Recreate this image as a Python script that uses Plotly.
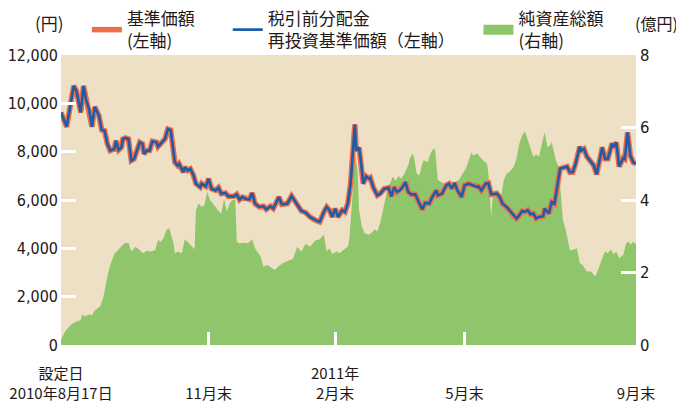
import pandas as pd
import plotly.graph_objects as go

# ---- data ----
START = "2010-08-17"
END = "2011-09-30"

# days since inception (設定日) for NAV readings
nav_days = [0, 4, 6, 9, 11, 14, 16, 18, 20, 22, 24, 27, 29, 31, 33, 35, 38, 39, 41, 43,
            44, 46, 48, 50, 52, 56, 58, 59, 61, 63, 65, 68, 69, 71, 74, 76, 78, 81, 83, 84,
            87, 88, 90, 92, 94, 96, 99, 100, 103, 105, 107, 110, 112, 114, 117, 119, 123, 125, 127, 129,
            132, 134, 136, 138, 141, 144, 146, 149, 151, 155, 157, 159, 161, 164, 166, 169, 171, 174, 177, 181,
            184, 187, 189, 191, 193, 195, 197, 200, 202, 204, 206, 209, 210, 212, 213, 215, 217, 219, 220, 222,
            225, 227, 230, 233, 235, 237, 239, 241, 243, 245, 247, 249, 252, 255, 257, 259, 262, 264, 267, 268,
            271, 274, 276, 278, 280, 282, 285, 287, 290, 293, 296, 297, 299, 302, 304, 306, 310, 312, 314, 317,
            319, 321, 324, 326, 328, 330, 332, 334, 336, 338, 340, 343, 344, 347, 349, 351, 353, 355, 357, 360,
            362, 364, 366, 369, 370, 372, 374, 376, 379, 381, 383, 385, 387, 389, 392, 393, 395, 397, 400, 401,
            403, 405, 407, 409]

# 基準価額 (円)
nav = [9620, 9030, 9690, 10720, 10510, 9620, 10720, 10100, 9760, 9030, 9855, 9485, 8900, 8870, 8320, 8045, 8115, 8456, 8073, 8181,
       8526, 8567, 8526, 7633, 7703, 8386, 8320, 7909, 8045, 8045, 8427, 8386, 8209, 8320, 8526, 8938, 8897, 7563, 7428, 7498,
       7152, 7358, 7222, 7292, 7057, 6675, 6535, 6675, 6563, 6880, 6469, 6399, 6510, 6263, 6288, 6152, 6152, 6234, 6016, 6123,
       6029, 6029, 6288, 5851, 5712, 5740, 5617, 5740, 5646, 6123, 5823, 5823, 5851, 6164, 5987, 5687, 5547, 5481, 5300, 5165,
       5094, 5506, 5712, 5576, 5300, 5646, 5300, 5576, 5506, 5851, 6675, 9130, 8045, 8181, 7769, 6675, 6975, 6880, 6921, 6535,
       6193, 6263, 6469, 6510, 6152, 6535, 6329, 6399, 6535, 6741, 6329, 6234, 6234, 5851, 5605, 5876, 5851, 6123, 6399, 6193,
       6263, 6605, 6675, 6469, 6700, 6399, 6123, 6605, 6675, 6605, 6535, 6563, 6399, 6675, 6700, 6234, 6263, 6123, 5851, 5712,
       5576, 5411, 5234, 5370, 5547, 5506, 5576, 5411, 5440, 5234, 5300, 5329, 5646, 5440, 5917, 5851, 6675, 7292, 7333, 7387,
       7152, 7152, 7498, 8209, 8045, 8115, 7798, 7633, 7428, 7057, 7633, 8181, 7703, 7703, 8345, 8181, 8386, 7387, 7744, 7703,
       8798, 7839, 7563, 7498]

# 税引前分配金再投資基準価額 (円) – no distributions, identical to NAV
reinvest = [9620, 9030, 9690, 10720, 10510, 9620, 10720, 10100, 9760, 9030, 9855, 9485, 8900, 8870, 8320, 8045, 8115, 8456, 8073, 8181,
            8526, 8567, 8526, 7633, 7703, 8386, 8320, 7909, 8045, 8045, 8427, 8386, 8209, 8320, 8526, 8938, 8897, 7563, 7428, 7498,
            7152, 7358, 7222, 7292, 7057, 6675, 6535, 6675, 6563, 6880, 6469, 6399, 6510, 6263, 6288, 6152, 6152, 6234, 6016, 6123,
            6029, 6029, 6288, 5851, 5712, 5740, 5617, 5740, 5646, 6123, 5823, 5823, 5851, 6164, 5987, 5687, 5547, 5481, 5300, 5165,
            5094, 5506, 5712, 5576, 5300, 5646, 5300, 5576, 5506, 5851, 6675, 9130, 8045, 8181, 7769, 6675, 6975, 6880, 6921, 6535,
            6193, 6263, 6469, 6510, 6152, 6535, 6329, 6399, 6535, 6741, 6329, 6234, 6234, 5851, 5605, 5876, 5851, 6123, 6399, 6193,
            6263, 6605, 6675, 6469, 6700, 6399, 6123, 6605, 6675, 6605, 6535, 6563, 6399, 6675, 6700, 6234, 6263, 6123, 5851, 5712,
            5576, 5411, 5234, 5370, 5547, 5506, 5576, 5411, 5440, 5234, 5300, 5329, 5646, 5440, 5917, 5851, 6675, 7292, 7333, 7387,
            7152, 7152, 7498, 8209, 8045, 8115, 7798, 7633, 7428, 7057, 7633, 8181, 7703, 7703, 8345, 8181, 8386, 7387, 7744, 7703,
            8798, 7839, 7563, 7498]

# days since inception for net-asset readings
asset_days = [0, 3, 7, 11, 14, 15, 17, 20, 22, 24, 28, 30, 33, 35, 38, 41, 43, 45, 48, 50,
              53, 56, 58, 61, 64, 67, 69, 71, 73, 75, 77, 80, 81, 83, 86, 88, 90, 93, 95, 96,
              98, 100, 102, 104, 106, 110, 112, 114, 116, 118, 120, 122, 124, 125, 127, 131, 133, 136, 138, 142,
              144, 147, 152, 155, 158, 162, 165, 168, 171, 174, 177, 181, 184, 187, 189, 191, 193, 196, 198, 201,
              204, 205, 207, 209, 211, 212, 214, 216, 219, 221, 223, 225, 227, 229, 232, 234, 236, 238, 240, 242,
              244, 247, 248, 250, 251, 253, 255, 257, 258, 261, 262, 264, 266, 267, 268, 272, 275, 279, 283, 285,
              288, 290, 292, 293, 296, 298, 300, 303, 304, 306, 307, 309, 311, 313, 315, 317, 319, 322, 324, 326,
              328, 330, 332, 334, 336, 338, 340, 341, 343, 344, 346, 348, 349, 351, 352, 354, 355, 357, 359, 362,
              364, 367, 369, 371, 374, 377, 380, 382, 385, 387, 389, 391, 393, 395, 397, 400, 402, 404, 405, 407,
              409]

# 純資産総額 (億円)
assets = [0.15, 0.38, 0.56, 0.65, 0.68, 0.84, 0.79, 0.84, 0.82, 0.95, 1.07, 1.30, 1.89, 2.21, 2.51, 2.64, 2.71, 2.81, 2.82, 2.58,
          2.71, 2.62, 2.53, 2.60, 2.58, 2.62, 2.90, 2.85, 2.95, 3.17, 3.22, 2.81, 2.53, 2.58, 2.53, 2.92, 2.85, 2.71, 2.64, 3.72,
          3.91, 3.81, 3.86, 4.23, 4.00, 3.81, 3.70, 3.63, 4.04, 3.68, 3.91, 4.00, 4.00, 2.85, 2.81, 2.82, 2.81, 2.92, 2.67, 2.44,
          2.16, 2.21, 2.07, 2.18, 2.26, 2.33, 2.37, 2.71, 2.58, 2.79, 2.71, 2.88, 2.92, 3.04, 2.58, 2.67, 2.51, 2.58, 2.53, 2.62,
          2.71, 2.90, 3.91, 5.29, 4.82, 3.72, 3.26, 3.08, 3.04, 3.10, 3.19, 3.13, 3.36, 3.72, 4.27, 4.46, 4.64, 4.53, 4.66, 4.59,
          4.71, 4.96, 5.14, 5.28, 5.19, 4.73, 4.68, 5.01, 5.10, 5.05, 5.19, 5.37, 5.42, 5.01, 4.55, 4.46, 4.50, 4.47, 4.55, 4.68,
          4.87, 5.10, 5.32, 5.23, 5.28, 5.19, 5.10, 5.01, 4.73, 3.54, 4.09, 4.27, 4.27, 4.09, 4.55, 4.73, 4.77, 4.91, 5.14, 5.55,
          5.78, 5.90, 5.66, 5.42, 5.19, 5.26, 5.19, 5.37, 5.74, 5.87, 5.46, 5.51, 5.60, 5.28, 5.10, 4.91, 4.46, 3.45, 3.17, 2.62,
          2.62, 2.67, 2.26, 2.21, 2.03, 2.03, 1.89, 2.07, 2.40, 2.58, 2.53, 2.64, 2.51, 2.58, 2.40, 2.49, 2.81, 2.85, 2.76, 2.85,
          2.78]

# x-axis ticks
tick_dates = ["2010-08-17", "2010-11-30", "2011-02-28", "2011-05-31", "2011-09-30"]
tick_labels = ["設定日<br>2010年8月17日", "\u00a0<br>11月末", "2011年<br>2月末", "\u00a0<br>5月末", "\u00a0<br>9月末"]
mark_dates = ["2010-11-30", "2011-02-28", "2011-05-31"]

left_ticks = [0, 2000, 4000, 6000, 8000, 10000, 12000]
right_ticks = [0, 2, 4, 6, 8]

assert len(nav_days) == len(nav) == len(reinvest)
assert len(asset_days) == len(assets)

start = pd.Timestamp(START)
nav_dates = [start + pd.Timedelta(days=d) for d in nav_days]
asset_dates = [start + pd.Timedelta(days=d) for d in asset_days]

# ---- styles ----
ORANGE = "#EE6E4C"
BLUE = "#1B5DA8"
GREEN = "#8FC66B"
BEIGE = "#EEE0C5"
TXT = "#231815"
NUMFONT = "Liberation Sans Narrow, DejaVu Sans Condensed, Roboto Condensed, Noto Sans CJK JP, sans-serif"
JPFONT = "Liberation Sans Narrow, Noto Sans CJK JP, sans-serif"

fig = go.Figure()

# net assets (right axis, base subplot)
fig.add_trace(go.Scatter(
    x=asset_dates, y=assets, xaxis="x", yaxis="y",
    mode="lines", line=dict(width=0, color=GREEN),
    fill="tozeroy", fillcolor=GREEN, showlegend=False, hoverinfo="skip"))
# legend key for net assets
fig.add_trace(go.Scatter(
    x=[None], y=[None], xaxis="x", yaxis="y", mode="lines",
    line=dict(width=16, color=GREEN), name="純資産総額<br>(右軸)", legend="legend3"))

# NAV lines (left axis, overlay subplot)
fig.add_trace(go.Scatter(
    x=nav_dates, y=nav, xaxis="x2", yaxis="y2", mode="lines",
    line=dict(width=5.5, color=ORANGE), name="基準価額<br>(左軸)", legend="legend",
    hoverinfo="skip"))
fig.add_trace(go.Scatter(
    x=nav_dates, y=reinvest, xaxis="x2", yaxis="y2", mode="lines",
    line=dict(width=2.6, color=BLUE), name="税引前分配金<br>再投資基準価額（左軸）", legend="legend2",
    hoverinfo="skip"))

legend_common = dict(orientation="v", bgcolor="rgba(0,0,0,0)", borderwidth=0,
                     font=dict(family=JPFONT, size=17, color=TXT),
                     yanchor="top", xanchor="left", itemclick=False, itemdoubleclick=False,
                     tracegroupgap=0, valign="middle")

# the page body adds an 8px offset, so the figure is 8px smaller than the window
fig.update_layout(
    width=676, height=404,
    margin=dict(l=53, r=48, t=47, b=66.5, autoexpand=False),
    paper_bgcolor="white", plot_bgcolor=BEIGE,
    hovermode=False,
    legend=dict(x=0.045, y=1.186, **legend_common),
    legend2=dict(x=0.290, y=1.186, **legend_common),
    legend3=dict(x=0.726, y=1.186, **legend_common),
    xaxis=dict(type="date", range=[START, END], showgrid=False, zeroline=False,
               showline=False, tickvals=tick_dates, ticktext=tick_labels, ticks="",
               ticklabelstandoff=18, automargin=False,
               tickfont=dict(family=JPFONT, size=15, color=TXT)),
    xaxis2=dict(type="date", range=[START, END], overlaying="x", anchor="y2",
                showgrid=False, zeroline=False, showline=False, automargin=False,
                tickvals=mark_dates, ticks="inside", ticklen=13, tickwidth=2.5,
                tickcolor="white", showticklabels=False),
    yaxis=dict(side="right", range=[0, 8], tickvals=right_ticks, showgrid=False,
               zeroline=False, showline=False, ticks="inside", ticklen=15, tickwidth=2.5,
               tickcolor="white", ticklabelstandoff=3, automargin=False,
               tickfont=dict(family=NUMFONT, size=16.5, color=TXT)),
    yaxis2=dict(side="left", overlaying="y", range=[0, 12000], tickvals=left_ticks,
                tickformat=",d", showgrid=False, zeroline=False, showline=False,
                ticks="inside", ticklen=15, tickwidth=2.5, tickcolor="white",
                ticklabelstandoff=2, automargin=False,
                tickfont=dict(family=NUMFONT, size=16, color=TXT)),
    annotations=[
        dict(text="(円)", xref="paper", yref="paper", x=-0.02, y=1.112,
             xanchor="center", yanchor="middle", showarrow=False,
             font=dict(family=JPFONT, size=17, color=TXT)),
        dict(text="(億円)", xref="paper", yref="paper", x=1.077, y=1.112,
             xanchor="right", yanchor="middle", showarrow=False,
             font=dict(family=JPFONT, size=16, color=TXT)),
    ],
)

fig.write_html("out.html")
